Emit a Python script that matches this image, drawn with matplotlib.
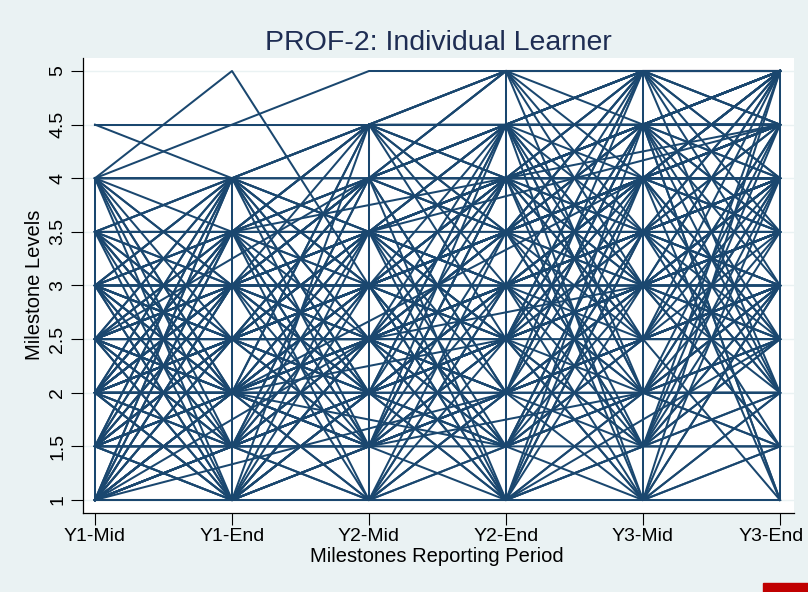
import matplotlib
matplotlib.use("Agg")
import matplotlib.pyplot as plt
from matplotlib.patches import Rectangle
from matplotlib.transforms import ScaledTranslation

plt.rcParams['font.family'] = ['Liberation Sans', 'DejaVu Sans']

# ------------------------------------------
# Data: milestone level per learner per reporting period
# None = not rated that period, (a, b) = two ratings logged in the same period
# ------------------------------------------
PERIODS = ["Y1-Mid", "Y1-End", "Y2-Mid", "Y2-End", "Y3-Mid", "Y3-End"]
LEVEL_TICKS = [1, 1.5, 2, 2.5, 3, 3.5, 4, 4.5, 5]
LEVEL_LABELS = ["1", "1.5", "2", "2.5", "3", "3.5", "4", "4.5", "5"]

LEARNERS = [
    [4.5, 4.5, 4.5, 4.5, 4.5, 4.5],
    [4.5, 4, 4, 4.5, 5, 5],
    [4, 5, 3, 3.5, 4, 4.5],
    [4, 4.5, 5, 5, 5, 5],
    [4, 4, 4.5, 4.5, 5, 5],
    [4, 4, 4, 4, 4.5, 4.5],
    [4, 3.5, 4, 4.5, 4.5, 5],
    [4, 3, 3.5, 4, 4, 4.5],
    [4, 2.5, 3, 3.5, 4, 4],
    [4, 2, 2.5, 3, 3.5, 4],
    [4, 1.5, 2, 2.5, 3, 3.5],
    [4, 1, 2, 3, 3.5, 3],
    [3.5, 4, 4.5, 4, 4.5, 5],
    [3.5, 3.5, 4, 4, 4, 4.5],
    [3.5, 3, 3, 3.5, 4, 4],
    [3.5, 2.5, 3.5, 3, 3.5, 4],
    [3.5, 2, 2.5, 3.5, 4.5, 5],
    [3.5, 1.5, 2, 2.5, 3, 3.5],
    [3.5, 1, 1.5, 2, 2.5, 3],
    [3, 4, 3.5, 4.5, 5, 5],
    [3, 3.5, 3.5, 4, 4.5, 4.5],
    [3, 3, 3, 3, 3.5, 4],
    [3, 2.5, 3, 3.5, 3.5, 4],
    [3, 2, 2.5, 2.5, 3, 3.5],
    [3, 1.5, 2, 2, 2.5, 3],
    [3, 1, 1, 1.5, 2, 2.5],
    [3, 3, 4, 4, 5, 5],
    [2.5, 4, 4.5, 5, 4.5, 5],
    [2.5, 3.5, 3, 3.5, 4, 4.5],
    [2.5, 3, 3.5, 4, 4, 4],
    [2.5, 2.5, 2.5, 3, 3.5, 3.5],
    [2.5, 2, 3, 3, 3, 3.5],
    [2.5, 1.5, 2, 2.5, 2.5, 3],
    [2.5, 1, 1.5, 2, 3, 3],
    [2.5, 3, 2, 2.5, 4, 5],
    [2.5, 2.5, 3.5, 4.5, 3.5, 4],
    [2, 4, 3, 4, 4.5, 5],
    [2, 3.5, 4, 3.5, 4, 4],
    [2, 3, 2.5, 3, 3.5, 3],
    [2, 2.5, 3, 2.5, 3, 3.5],
    [2, 2, 2, 2.5, 3, 3],
    [2, 1.5, 1.5, 2, 2, 2.5],
    [2, 1, 2, 1.5, 2, 2],
    [2, 2, 3, 3.5, 4.5, 4],
    [2, 2.5, 2, 3, 2.5, 3],
    [2, 3, 3.5, 3, 4, 3.5],
    [2, 2, 2.5, 4, 3.5, 4.5],
    [1.5, 4, 3.5, 3, 3.5, 4],
    [1.5, 3.5, 2.5, 3, 4, 3.5],
    [1.5, 3, 2, 2, 2.5, 3],
    [1.5, 2.5, 3, 3.5, 3, 4],
    [1.5, 2, 2.5, 2, 2.5, 2.5],
    [1.5, 1.5, 2, 2.5, 2, 2],
    [1.5, 1, 1, 1, 1.5, 1.5],
    [1.5, 2, 1.5, 2.5, 3.5, 3],
    [1.5, 2.5, 2.5, 3, 3, 3.5],
    [1, 4, 2, 3, 3.5, 2.5],
    [1, 3.5, 3, 2.5, 3, 3],
    [1, 3, 2.5, 2, 2, 2],
    [1, 2.5, 2, 1.5, 2, 2.5],
    [1, 2, 1.5, 1, 1, 1],
    [1, 1.5, 1, 1, 1.5, 2],
    [1, 1, 1, 1.5, 1, 1.5],
    [1, 1, 1.5, 2, 2.5, 3],
    [1, 2, 3, 3.5, 4, 4],
    [1, 1.5, 2.5, 3, 3.5, 3.5],
    [1, 2.5, 3.5, 4, 5, 4.5],
    [1, 1, 2, 2.5, 3, 3.5],
    [1, 1.5, 2, 2.5, 3.5, 4],
    [1, 2, 2.5, 3, 3.5, 4.5],
    [1.5, 2, 3, 3, 4, 4.5],
    [2, 2.5, 3.5, 4, 4.5, 5],
    [2.5, 3, 4, 4.5, 5, 5],
    [1, 1.5, 2.5, 3.5, 4, 5],
    [1.5, 2.5, 3.5, 4, 4.5, 4.5],
    [2, 3, 4, 4.5, 4.5, 5],
    [2, 3.5, 4.5, 5, 5, 5],
    [3, 4, 4.5, 5, 5, 5],
    [1, 2, 2, 3, 4, 4],
    [1.5, 1.5, 2.5, 3.5, 4.5, 5],
    [2, 2, 3, 4, 5, 4.5],
    [2.5, 2.5, 3, 4, 4, 5],
    [1, 1, 2.5, 3, 3.5, 4],
    [1.5, 2, 2, 3, 3, 4],
    [2, 2.5, 2.5, 3.5, 3.5, 4],
    [2.5, 3, 3, 4, 4.5, 3.5],
    [3, 3.5, 4.5, 4, 3.5, 3],
    [1, 2.5, 1.5, 3, 2, 4],
    [1.5, 3.5, 1, 3.5, 1.5, 3.5],
    [2, 4, 1.5, 4.5, 2, 4.5],
    [2.5, 1, 3, 1.5, 3.5, 2],
    [3, 1.5, 4, 2, 4.5, 2.5],
    [3.5, 2, 4.5, 2.5, 5, 3],
    [1, 3, 1.5, 3.5, 2.5, 4.5],
    [1.5, 4, 2.5, 4.5, 3, 5],
    [2, 1, 3.5, 1.5, 4, 2],
    [2.5, 1.5, 1, 2, 4.5, 1],
    [3, 2, 1.5, 2.5, 1, 4],
    [2, 3, 1, 3, 1, 3],
    [1.5, 2.5, 4, 2, 5, 2],
    [3, 2.5, 1.5, 4, 3, 5],
    [2.5, 4, 2, 1, 3.5, 1.5],
    [1, 1.5, 3, 4.5, 2.5, 1],
    [2, 1.5, 4, 5, 2, 1.5],
    [1.5, 3, 3.5, 1, 4.5, 3.5],
    [3.5, 3.5, 1.5, 2.5, 1.5, 4.5],
    [4, 3, 2, 1, 2, 3.5],
    [3.5, 4, 2.5, 2, 2.5, 4.5],
    [2, 2.5, 3, 2.5, 1, 2],
    [1.5, 2, 2.5, 2, 1.5, 1.5],
    [2.5, 2, 1.5, 2, 1, 1],
    [3, 2.5, 2, 1.5, 1.5, 3],
    [2, 2, 3.5, 3, 1.5, 2.5],
    [3, 3.5, 4, 3.5, 5, 4],
    [2.5, 3, 3.5, 3, 5, 4.5],
    [3.5, 4, 3.5, 2.5, 5, 5],
    [2, 3, 2.5, 2, 4.5, 3],
    [1.5, 2.5, 3, 1.5, 2.5, 4],
    [2.5, 3.5, 4.5, 3.5, 3, 2.5],
    [3, 4, 3, 1.5, 2.5, 3],
    [2, 1.5, 2.5, 1, 3, 4],
    [1, 2, 1, 2.5, 4, 3.5],
    [1.5, 1, 2.5, 1, 3.5, 5],
    [2, 1, 2, 4, 3, 2.5],
    [3, 2, 4.5, 3.5, 2, 4],
    [2.5, 2, 1, 3, 2, 1.5],
    [1, 3, 4.5, 4, 1.5, 4],
    [4, 2, 3.5, 2.5, 4.5, 2],
    [3.5, 2.5, 4, 5, 3, 1.5],
    [2, 3.5, 1.5, 4, 2.5, 5],
    [1.5, 3, 4, 1, 4, 2.5],
    [2.5, 1.5, 3.5, 4.5, 2, 3],
    [3, 1, 2.5, 3.5, 5, 3.5],
    [1, 3.5, 2, 4.5, 1, 5],
    # learners with a skipped reporting period
    [2, None, 3, 3.5, 4, 4],
    [1.5, None, 1.5, 2.5, 3, 3],
    [1, None, 2.5, 3, 3.5, 4],
    [2.5, None, 4, 4.5, 5, 5],
    [3, None, 2, 2.5, 3, 3.5],
    [1.5, None, 3.5, 2, 4, 4.5],
    [3, 3.5, None, 4, 4.5, 5],
    [2.5, 2, None, 3, 3.5, 4],
    [1, 2, None, 2.5, 3, 4],
    [2, 3.5, None, 3.5, 4.5, 5],
    [3.5, 2, None, 1.5, 2.5, 3],
    [1.5, 1, None, 3, 4, 4.5],
    [1, 1.5, 2, None, 3, 3.5],
    [2, 2.5, 3, None, 4, 4.5],
    [2, 2.5, 2.5, None, 3, 4],
    [3, 3, 4, None, 5, 4],
    [1, 1.5, 1.5, None, 2, 2.5],
    [2.5, 2, 3.5, None, 1.5, 3],
    [3.5, 3, 3.5, 4, None, 5],
    [1.5, 2, 2.5, 3, None, 4],
    [2, 3, 3.5, 4, None, 4.5],
    [3, 2.5, 3, 1, None, 2.5],
    [2.5, 3.5, 2, 4.5, None, 1.5],
    [2.5, 3, 3, 3.5, 4, None],
    [1, None, None, 2, 3, 3.5],
    [2, None, None, 3.5, 4, 5],
    [1.5, 2, None, None, 4, 4],
    [2.5, 3, 3.5, None, None, 4.5],
    # learners who entered after Y1-Mid
    [None, 1, 1.5, 2, 2.5, 2.5],
    [None, 2, 3, 3.5, 4, 4.5],
    [None, 3, 4, 4.5, 5, 5],
    [None, 2.5, 4, 3.5, 4, 5],
    [None, 1.5, 3, 2.5, 3, 3.5],
    [None, 1.5, 2, 3, 3.5, 4],
    [None, 2.5, 3, 4, 4.5, 4.5],
    [None, 3.5, 4.5, 5, 5, 5],
    [None, 1, 2.5, 1.5, 3, 2.5],
    [None, 2, 1.5, 4, 2.5, 3.5],
    [None, 3, 2.5, 1.5, 4, 1],
    [None, None, 1, 2, 3, 4],
    [None, None, 1.5, 1.5, 2, 3],
    [None, None, 2, 3, 3.5, 5],
    [None, None, 4, 5, 5, 5],
    [None, None, 3, 4, 4.5, 4],
    [None, None, 2.5, 2.5, 3, 2],
    [None, None, 3.5, 4.5, 4, 5],
    [None, None, 1, 1, 1.5, 2],
    [None, None, 2.5, 4, 1, 3],
    [None, None, 4.5, 3, 4, 2.5],
    [None, None, None, 1, 2, 3],
    [None, None, None, 2, 3, 4],
    [None, None, None, 3, 4, 4.5],
    [None, None, None, 4, 4.5, 5],
    [None, None, None, 1.5, 3.5, 4],
    [None, None, None, 2.5, 4.5, 4.5],
    [None, None, None, 5, 3.5, 2],
    [None, None, None, 3.5, 1.5, 5],
    [None, None, None, None, 1, 1.5],
    [None, None, None, None, 1.5, 2.5],
    [None, None, None, None, 2, 3],
    # double entries within one period
    [(1, 4), 4, 3, 3.5, 4, 4],
    [1, (4, 1), 1.5, 2, 2.5, 3],
    [None, 1, (4.5, 1), 2, 2.5, 3],
    [2, 2.5, 3, (1, 5), 4, 4.5],
    [2, 3, 3, 3.5, (5, 1), 2],
    [3, 3, 3.5, 4, 4.5, (1, 5)],
]

BG = "#EAF2F3"
LINE = "#1A476F"
TITLE_COLOR = "#1E2D53"


def learner_path(row):
    """Flatten one learner's row into x/y points, skipping unrated periods."""
    xs, ys = [], []
    for i, v in enumerate(row):
        if v is None:
            continue
        vals = v if isinstance(v, tuple) else (v,)
        for val in vals:
            xs.append(i)
            ys.append(val)
    return xs, ys


fig = plt.figure(figsize=(8.08, 5.92), dpi=100, facecolor=BG)
ax = fig.add_axes([83 / 808, 79 / 592, 711 / 808, 455 / 592])
ax.set_facecolor("white")

for yv in LEVEL_TICKS:
    ax.axhline(yv, color=BG, lw=1.0, zorder=0)

for row in LEARNERS:
    xs, ys = learner_path(row)
    ax.plot(xs, ys, color=LINE, lw=1.45, zorder=2)

ax.set_xlim(-12 / 137, 5 + 14 / 137)
ax.set_ylim(1 - 13 / 107.25, 5 + 13 / 107.25)

ax.set_xticks(range(len(PERIODS)))
ax.set_xticklabels(PERIODS)
ax.set_yticks(LEVEL_TICKS)
ax.set_yticklabels(LEVEL_LABELS, rotation=90, va="center")
ax.tick_params(axis="both", labelsize=14.0, length=8.5, width=0.8,
               color="black", labelcolor="black")
ax.tick_params(axis="x", pad=2.5)
ax.tick_params(axis="y", pad=3.5)

# last period label is nudged left so it stays inside the figure
last = ax.get_xticklabels()[-1]
last.set_transform(last.get_transform() + ScaledTranslation(-0.09, 0, fig.dpi_scale_trans))

for side in ["top", "right"]:
    ax.spines[side].set_visible(False)
for side in ["left", "bottom"]:
    ax.spines[side].set_linewidth(0.9)
    ax.spines[side].set_color("black")

ax.set_title("PROF-2: Individual Learner", fontsize=20.5, color=TITLE_COLOR, pad=6)
fig.text(437 / 808, 1 - 557 / 592, "Milestones Reporting Period",
         fontsize=14.5, ha="center", va="center")
fig.text(35 / 808, 1 - 285 / 592, "Milestone Levels",
         fontsize=14.5, ha="center", va="center", rotation=90)

fig.patches.append(Rectangle((763 / 808, 0), 45 / 808, 9 / 592,
                             transform=fig.transFigure, color="#C00000"))

fig.savefig("out.png", dpi=100, facecolor=fig.get_facecolor())
